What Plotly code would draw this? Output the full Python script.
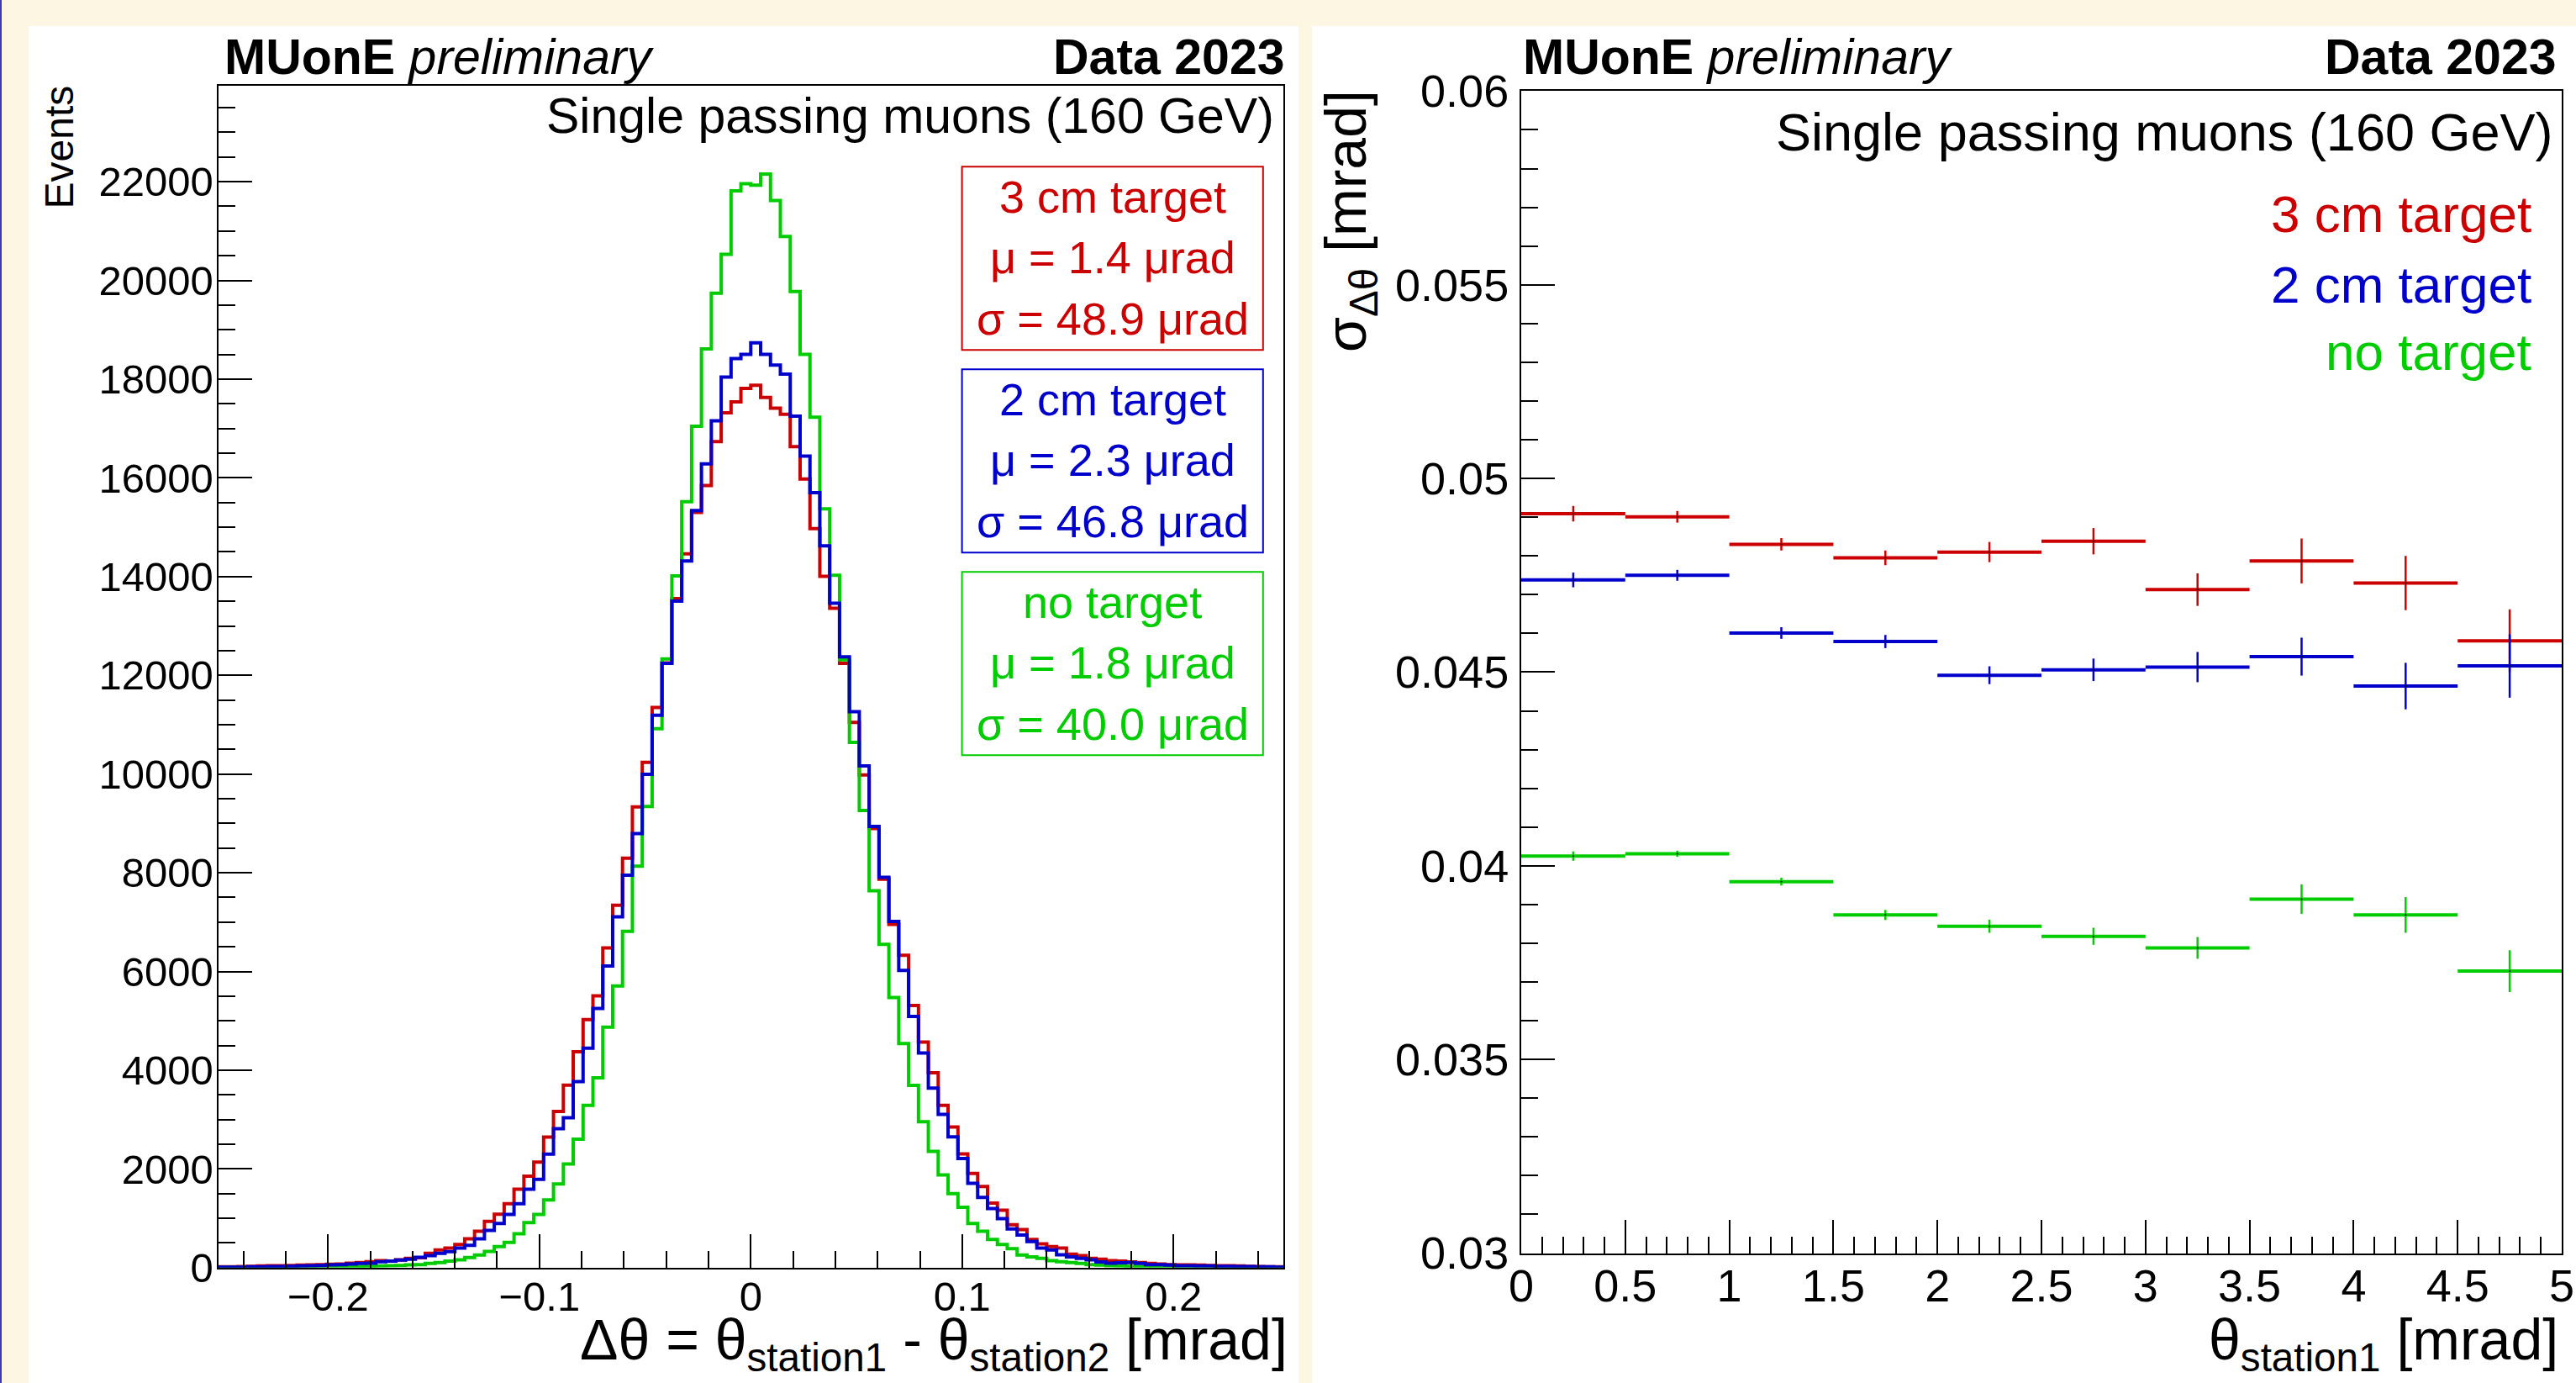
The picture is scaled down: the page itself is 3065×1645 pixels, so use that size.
import numpy as np
import plotly.graph_objects as go

W, H = 3065, 1645
FONT = "Liberation Sans, Arial, Helvetica, sans-serif"

RED = "#CC0000"
BLUE = "#0000CC"
GREEN = "#00CC00"
CREAM = "#FDF6E3"

# ---------------- Left panel: histogram of delta theta ----------------
HIST_XMIN, HIST_XMAX, HIST_NBINS = -0.252, 0.252, 108

counts_3cm = [
    17, 17, 23, 28, 34, 40, 40, 45, 51, 57,
    62, 68, 74, 91, 102, 119, 142, 131, 159, 187,
    199, 290, 358, 397, 471, 585, 738, 937, 1084, 1294,
    1590, 1851, 2140, 2645, 3163, 3698, 4372, 5024, 5508, 6476,
    7341, 8295, 9336, 10238, 11349, 12250, 13553, 14463, 15300, 15846,
    16734, 17316, 17541, 17811, 17877, 17630, 17411, 17288, 16632, 15978,
    14973, 14004, 13357, 12243, 11044, 9981, 8896, 7869, 6953, 6329,
    5311, 4570, 3946, 3287, 2850, 2304, 1907, 1646, 1306, 1164,
    869, 772, 573, 483, 426, 397, 272, 244, 187, 170,
    142, 131, 114, 102, 85, 74, 62, 57, 57, 51,
    45, 40, 40, 34, 28, 23, 17, 17,
]
counts_2cm = [
    11, 11, 11, 17, 17, 23, 23, 28, 34, 40,
    45, 57, 62, 74, 85, 91, 119, 131, 153, 170,
    210, 244, 290, 324, 397, 454, 585, 755, 897, 1079,
    1294, 1590, 1790, 2298, 2817, 3037, 3771, 4445, 5253, 6109,
    7107, 7950, 8794, 9996, 11190, 12243, 13503, 14317, 15336, 16283,
    17156, 18044, 18415, 18502, 18735, 18502, 18284, 18102, 17250, 16443,
    15700, 14624, 13459, 12374, 11262, 10165, 8940, 7906, 7012, 6021,
    5091, 4350, 3638, 3103, 2650, 2210, 1709, 1425, 1198, 993,
    783, 659, 528, 397, 358, 261, 216, 187, 159, 114,
    91, 97, 102, 85, 62, 62, 51, 40, 40, 34,
    34, 28, 28, 23, 23, 17, 17, 11,
]
counts_notarget = [
    3, 3, 4, 4, 6, 6, 6, 8, 8, 8,
    11, 11, 17, 17, 23, 28, 34, 40, 45, 57,
    62, 85, 102, 131, 159, 204, 255, 329, 426, 511,
    687, 914, 1080, 1370, 1696, 2098, 2604, 3287, 3844, 4871,
    5706, 6813, 8133, 9344, 10919, 12331, 14012, 15518, 17047, 18613,
    19740, 20527, 21814, 21960, 21930, 22157, 21619, 20890, 19776, 18502,
    17229, 15373, 14026, 12316, 10641, 9262, 7635, 6549, 5472, 4541,
    3691, 2957, 2356, 1879, 1500, 1222, 897, 738, 573, 471,
    386, 255, 216, 187, 142, 119, 102, 85, 62, 51,
    40, 34, 28, 23, 17, 17, 11, 11, 8, 8,
    6, 6, 6, 6, 4, 4, 3, 3,
]

stat_labels = ["3 cm target", "2 cm target", "no target"]
stat_mu = ["1.4", "2.3", "1.8"]
stat_sigma = ["48.9", "46.8", "40.0"]

# ---------------- Right panel: sigma vs theta ----------------
theta_centers = [0.25, 0.75, 1.25, 1.75, 2.25, 2.75, 3.25, 3.75, 4.25, 4.75]
theta_halfwidth = [0.25, 0.25, 0.25, 0.25, 0.25, 0.25, 0.25, 0.25, 0.25, 0.25]
sigma_3cm = [0.04909, 0.04901, 0.04830, 0.04795, 0.04810, 0.04838, 0.04713, 0.04787, 0.04730, 0.04581]
sigma_3cm_err = [0.00020, 0.00015, 0.00016, 0.00019, 0.00026, 0.00034, 0.00042, 0.00058, 0.00070, 0.00081]
sigma_2cm = [0.04738, 0.04750, 0.04601, 0.04579, 0.04492, 0.04506, 0.04513, 0.04540, 0.04464, 0.04516]
sigma_2cm_err = [0.00019, 0.00014, 0.00015, 0.00017, 0.00023, 0.00029, 0.00039, 0.00049, 0.00060, 0.00082]
sigma_notarget = [0.04025, 0.04031, 0.03959, 0.03873, 0.03844, 0.03818, 0.03788, 0.03914, 0.03873, 0.03728]
sigma_notarget_err = [0.00012, 0.00008, 0.00010, 0.00013, 0.00017, 0.00022, 0.00028, 0.00038, 0.00046, 0.00054]


def px(x):
    return x / W


def py(y):
    return 1 - y / H


fig = go.Figure()

edges = np.linspace(HIST_XMIN, HIST_XMAX, HIST_NBINS + 1)
for counts, color in [(counts_3cm, RED), (counts_notarget, GREEN), (counts_2cm, BLUE)]:
    fig.add_trace(go.Scatter(
        x=edges, y=list(counts) + [counts[-1]], mode="lines",
        line=dict(color=color, width=4, shape="hv"),
        xaxis="x", yaxis="y", showlegend=False, hoverinfo="skip"))

for vals, errs, color in [(sigma_3cm, sigma_3cm_err, RED), (sigma_2cm, sigma_2cm_err, BLUE),
                          (sigma_notarget, sigma_notarget_err, GREEN)]:
    fig.add_trace(go.Scatter(
        x=theta_centers, y=vals, mode="markers",
        marker=dict(size=2, color="black"),
        error_x=dict(type="data", array=theta_halfwidth, width=0, thickness=4, color=color),
        error_y=dict(type="data", array=errs, width=0, thickness=2.5, color=color),
        xaxis="x2", yaxis="y2", showlegend=False, hoverinfo="skip"))

common = dict(showline=True, linecolor="black", linewidth=2, mirror=True,
              ticks="inside", tickcolor="black", tickwidth=2, ticklen=40,
              showgrid=False, zeroline=False, automargin=False)

Y_TOP = 23950

fig.update_layout(
    width=W, height=H, autosize=False,
    margin=dict(l=0, r=0, t=0, b=0, pad=0, autoexpand=False),
    paper_bgcolor=CREAM, plot_bgcolor="white",
    font=dict(family=FONT, color="black"),
    xaxis=dict(domain=[px(259.5), px(1527.1)], range=[HIST_XMIN, HIST_XMAX],
               tick0=0, dtick=0.1, anchor="y",
               minor=dict(ticks="inside", dtick=0.02, ticklen=20, tickwidth=2, tickcolor="black"),
               tickfont=dict(size=49, family=FONT), ticklabelstandoff=-10, **common),
    yaxis=dict(domain=[py(1507.8), py(1507.8 - Y_TOP / 17.032)], range=[0, Y_TOP],
               tick0=0, dtick=2000, anchor="x", tickformat="d",
               minor=dict(ticks="inside", dtick=500, ticklen=20, tickwidth=2, tickcolor="black"),
               tickfont=dict(size=49, family=FONT), ticklabelstandoff=-6, **common),
    xaxis2=dict(domain=[px(1810), px(3048)], range=[0, 5], tick0=0, dtick=0.5, anchor="y2",
                minor=dict(ticks="inside", dtick=0.1, ticklen=20, tickwidth=2, tickcolor="black"),
                tickfont=dict(size=54, family=FONT), ticklabelstandoff=-9, **common),
    yaxis2=dict(domain=[py(1490.5), py(108.4)], range=[0.03, 0.06], tick0=0.03, dtick=0.005,
                anchor="x2",
                minor=dict(ticks="inside", dtick=0.001, ticklen=20, tickwidth=2, tickcolor="black"),
                tickfont=dict(size=54, family=FONT), ticklabelstandoff=2, **common),
)

shapes = [
    dict(type="rect", xref="paper", yref="paper", x0=px(34), x1=px(1545), y0=0, y1=py(31),
         fillcolor="white", line=dict(width=0), layer="below"),
    dict(type="rect", xref="paper", yref="paper", x0=px(1561), x1=1, y0=0, y1=py(31),
         fillcolor="white", line=dict(width=0), layer="below"),
    dict(type="rect", xref="paper", yref="paper", x0=0, x1=px(2), y0=0, y1=1,
         fillcolor="#3C3CA8", line=dict(width=0), layer="below"),
]

annotations = []


def ann(text, x, y, size, color="black", xanchor="center", yanchor="middle", angle=0):
    annotations.append(dict(text=text, x=px(x), y=py(y), xref="paper", yref="paper",
                            showarrow=False, xanchor=xanchor, yanchor=yanchor, textangle=angle,
                            font=dict(size=size, color=color, family=FONT)))


# headers
ann("<b>MUonE</b> <i>preliminary</i>", 265, 68, 59, xanchor="left")
ann("<b>Data 2023</b>", 1531, 68, 59, xanchor="right")
ann("<b>MUonE</b> <i>preliminary</i>", 1810, 68, 59, xanchor="left")
ann("<b>Data 2023</b>", 3044, 68, 59, xanchor="right")

ann("Single passing muons (160 GeV)", 1518, 138, 59, xanchor="right")
ann("Single passing muons (160 GeV)", 3040, 157, 63, xanchor="right")

# stat boxes (left)
box_colors = [RED, BLUE, GREEN]
for i in range(3):
    top = 198.3 + 241 * i
    shapes.append(dict(type="rect", xref="paper", yref="paper", x0=px(1144.6), x1=px(1502.8),
                       y0=py(top + 218), y1=py(top), line=dict(color=box_colors[i], width=2),
                       fillcolor="white"))
    ann(stat_labels[i], 1323.7, top + 35.3, 54, box_colors[i])
    ann("μ = %s μrad" % stat_mu[i], 1323.7, top + 107.4, 54, box_colors[i])
    ann("σ = %s μrad" % stat_sigma[i], 1323.7, top + 180.6, 54, box_colors[i])

# right legend texts
for i, yy in enumerate([254, 338, 418]):
    ann(stat_labels[i], 3014, yy, 62, box_colors[i], xanchor="right")

# axis titles
ann("Δθ = θ<sub>station1</sub> - θ<sub>station2</sub> [mrad]", 1534, 1643, 68,
    xanchor="right", yanchor="bottom")
ann("θ<sub>station1</sub> [mrad]", 3046, 1643, 68, xanchor="right", yanchor="bottom")
ann("Events", 70, 100, 48, angle=-90, yanchor="top")
ann("σ<sub>Δθ</sub> [mrad]", 1606, 105, 68, angle=-90, yanchor="top")

fig.update_layout(shapes=shapes, annotations=annotations)

fig.write_html("out.html", config={"displayModeBar": False},
               post_script="document.body.style.margin='0';document.body.style.overflow='hidden';")
